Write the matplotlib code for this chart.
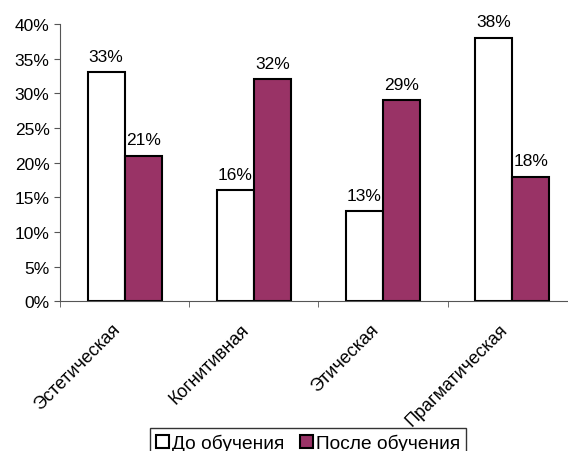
import numpy as np
import matplotlib.pyplot as plt
import matplotlib.transforms as mtransforms
from matplotlib.ticker import PercentFormatter

categories = ["Эстетическая", "Когнитивная", "Этическая", "Прагматическая"]
before = [33, 16, 13, 38]
after = [21, 32, 29, 18]
series_names = ["До обучения", "После обучения"]

plt.rcParams['font.family'] = ['Liberation Sans', 'DejaVu Sans']

fig = plt.figure(figsize=(5.68, 4.52), dpi=100)
ax = fig.add_axes([0.1056, 0.331, 0.91, 0.614])

x = np.arange(len(categories))
w = 0.287
b1 = ax.bar(x - w / 2, before, w, color="white", edgecolor="black", linewidth=1.5,
            label=series_names[0])
b2 = ax.bar(x + w / 2, after, w, color="#993366", edgecolor="black", linewidth=1.5,
            label=series_names[1])

for bars, vals in [(b1, before), (b2, after)]:
    for rect, v in zip(bars, vals):
        ax.annotate(f"{v}%", (rect.get_x() + rect.get_width() / 2, v),
                    xytext=(0, 6), textcoords="offset points",
                    ha="center", va="bottom", fontsize=12.5)

ax.set_xlim(-0.5, len(categories) - 0.5)
ax.set_ylim(0, 40)
ax.set_yticks(range(0, 41, 5))
ax.yaxis.set_major_formatter(PercentFormatter(decimals=0))
ax.tick_params(axis="y", labelsize=12.5, length=4, color="#555555")

ax.set_xticks(x)
ax.set_xticklabels(categories, rotation=45, ha="right", va="center",
                   rotation_mode="anchor", fontsize=13)
ax.tick_params(axis="x", length=0, pad=18)
ax.set_xticks(np.arange(len(categories) + 1) - 0.5, minor=True)
ax.tick_params(axis="x", which="minor", length=4, color="#555555")

# shift category labels slightly to the left, as in the original
shift = mtransforms.ScaledTranslation(-7 / 100, 0, fig.dpi_scale_trans)
for lbl in ax.get_xticklabels():
    lbl.set_transform(lbl.get_transform() + shift)

for s in ["top", "right"]:
    ax.spines[s].set_visible(False)
ax.spines["left"].set_color("#555555")
ax.spines["bottom"].set_color("#555555")

fig.legend(loc="upper center", bbox_to_anchor=(0.543, 1 - 429 / 452), ncol=2,
           fontsize=13.8, frameon=True, fancybox=False, edgecolor="black",
           handlelength=0.65, handleheight=0.65, handletextpad=0.2,
           columnspacing=0.8, borderpad=0.3, borderaxespad=0)

fig.savefig("out.png", dpi=100)
